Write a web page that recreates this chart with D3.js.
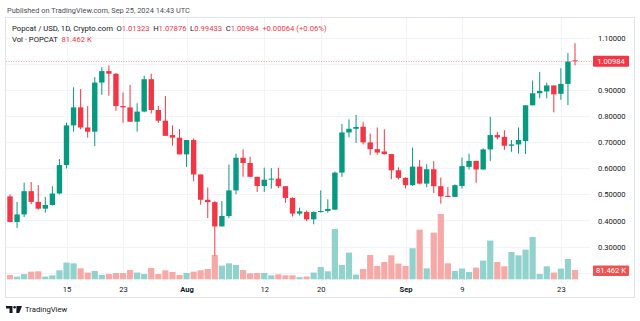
<!DOCTYPE html>
<html>
<head>
<meta charset="utf-8">
<script src="https://cdn.jsdelivr.net/npm/d3@7"></script>
<style>
  html, body { margin: 0; padding: 0; background: #ffffff; }
  svg { display: block; font-family: Roboto, "Noto Sans", sans-serif; }
</style>
</head>
<body>
<svg id="chart" width="640" height="321"></svg>
<script>
// ---------- DATA ----------
const startDay = "2024-07-07";
const endDay = "2024-09-25";
const openVals = [0.492,0.394,0.423,0.512,0.471,0.445,0.459,0.503,0.612,0.764,
  0.833,0.756,0.740,0.928,0.972,0.962,0.838,0.833,0.778,0.817,
  0.941,0.823,0.782,0.727,0.717,0.653,0.708,0.576,0.479,0.470,
  0.377,0.417,0.515,0.640,0.620,0.567,0.532,0.556,0.560,0.531,
  0.486,0.426,0.432,0.404,0.432,0.436,0.441,0.583,0.737,0.751,
  0.759,0.699,0.673,0.664,0.654,0.592,0.563,0.535,0.606,0.541,
  0.596,0.531,0.494,0.490,0.532,0.605,0.628,0.595,0.672,0.727,
  0.720,0.686,0.691,0.704,0.841,0.887,0.894,0.917,0.885,0.923,1.01323];
const highVals = [0.500,0.471,0.545,0.547,0.535,0.490,0.531,0.635,0.774,0.910,
  0.903,0.838,0.949,0.987,0.994,0.964,0.890,0.919,0.849,0.954,
  0.962,0.838,0.877,0.764,0.750,0.708,0.714,0.576,0.526,0.474,
  0.474,0.614,0.656,0.672,0.644,0.567,0.602,0.600,0.602,0.532,
  0.488,0.449,0.438,0.435,0.515,0.481,0.587,0.769,0.787,0.804,
  0.778,0.733,0.756,0.749,0.654,0.603,0.565,0.679,0.631,0.615,
  0.627,0.564,0.528,0.538,0.641,0.656,0.628,0.676,0.797,0.740,
  0.746,0.708,0.756,0.841,0.936,0.969,0.928,0.917,0.983,1.041,1.07876];
const lowVals = [0.392,0.371,0.413,0.462,0.441,0.430,0.457,0.500,0.599,0.740,
  0.749,0.717,0.685,0.881,0.878,0.820,0.774,0.778,0.740,0.814,
  0.810,0.774,0.724,0.686,0.653,0.605,0.550,0.460,0.409,0.265,
  0.377,0.409,0.500,0.567,0.567,0.509,0.509,0.522,0.523,0.467,
  0.415,0.419,0.397,0.385,0.430,0.430,0.441,0.567,0.718,0.697,
  0.691,0.650,0.652,0.652,0.558,0.557,0.522,0.532,0.538,0.527,
  0.505,0.464,0.490,0.490,0.522,0.595,0.544,0.595,0.628,0.710,
  0.670,0.663,0.656,0.654,0.841,0.868,0.868,0.814,0.862,0.842,0.99433];
const closeVals = [0.394,0.423,0.512,0.471,0.445,0.459,0.503,0.612,0.764,0.833,
  0.756,0.740,0.928,0.972,0.962,0.838,0.833,0.778,0.817,0.941,
  0.823,0.782,0.724,0.717,0.653,0.708,0.576,0.479,0.470,0.377,
  0.417,0.515,0.640,0.620,0.567,0.532,0.556,0.560,0.531,0.486,
  0.426,0.435,0.404,0.432,0.436,0.444,0.583,0.737,0.751,0.758,
  0.699,0.673,0.660,0.654,0.592,0.563,0.535,0.606,0.541,0.596,
  0.531,0.492,0.490,0.535,0.608,0.628,0.595,0.672,0.727,0.718,
  0.686,0.691,0.708,0.841,0.887,0.896,0.917,0.883,0.923,1.0092,1.00984];
// volume in thousands
const volumeK = [38,24,46,67,70,24,35,79,146,140,
  96,59,73,38,46,55,55,81,59,46,
  99,46,79,64,38,55,67,79,90,213,
  120,140,125,81,53,55,55,35,44,35,
  35,18,24,59,108,70,441,125,234,41,
  90,213,117,152,210,138,117,272,435,96,
  409,572,140,73,94,64,102,164,339,152,
  114,239,210,260,371,46,114,59,94,178,81.462];

const priceTicks = [0.3,0.4,0.5,0.6,0.7,0.8,0.9,1.1];
const priceTickLabels = ["0.30000","0.40000","0.50000","0.60000","0.70000","0.80000","0.90000","1.10000"];
const gridPrices = [0.2,0.3,0.4,0.5,0.6,0.7,0.8,0.9,1.0,1.1];
const timeTickDates = ["2024-07-15","2024-07-23","2024-08-01","2024-08-12","2024-08-20","2024-09-01","2024-09-09","2024-09-23"];
const timeTickLabels = ["15","23","Aug","12","20","Sep","9","23"];
const timeTickBold = [false,false,true,false,false,true,false,false];

const lastPrice = 1.00984;
const lastVolumeLabel = "81.462 K";
const publishedText = "Published on TradingView.com, Sep 25, 2024 14:43 UTC";
const symbolText = "Popcat / USD, 1D, Crypto.com";
const ohlcLegend = [["O","1.01323"],["H","1.07876"],["L","0.99433"],["C","1.00984"]];
const changeText = "+0.00064 (+0.06%)";
const volTitle = "Vol · POPCAT";

// ---------- CHART ----------
const UP = "#089981", DOWN = "#F23645";
const VOL_UP = "#92D2CC", VOL_DOWN = "#F7A9A7";
const TEXT = "#131722";
const GRID = "#F0F3FA";
const BORDER = "#E0E3EB";

const parse = d3.utcParse("%Y-%m-%d");
const dates = d3.utcDay.range(parse(startDay), d3.utcDay.offset(parse(endDay), 1));
const data = dates.map((d, i) => ({
  date: d, o: openVals[i], h: highVals[i], l: lowVals[i], c: closeVals[i], v: volumeK[i]
}));

const svg = d3.select("#chart");
const frame = {left: 5, right: 634, top: 17, bottom: 297};
const paneRight = 590;

const x = d3.scaleUtc().domain([dates[0], dates[dates.length - 1]]).range([10, 575]);
const y = d3.scaleLinear().domain([0.3, 1.1]).range([246.5, 37.7]);
const yv = d3.scaleLinear().domain([0, 600]).range([279.3, 210.8]);

// frame
svg.append("rect").attr("x", frame.left + 0.5).attr("y", frame.top + 0.5)
  .attr("width", frame.right - frame.left).attr("height", frame.bottom - frame.top)
  .attr("fill", "none").attr("stroke", BORDER).attr("stroke-width", 1);

// horizontal grid
svg.append("g").selectAll("line").data(gridPrices).join("line")
  .attr("x1", frame.left + 1).attr("x2", paneRight)
  .attr("y1", d => Math.round(y(d)) + 0.5).attr("y2", d => Math.round(y(d)) + 0.5)
  .attr("stroke", GRID).attr("stroke-width", 1);

// vertical grid
svg.append("g").selectAll("line").data(timeTickDates).join("line")
  .attr("x1", d => Math.round(x(parse(d))) + 0.5).attr("x2", d => Math.round(x(parse(d))) + 0.5)
  .attr("y1", frame.top + 1).attr("y2", 283)
  .attr("stroke", GRID).attr("stroke-width", 1);

// volume bars
const vW = 6.2;
svg.append("g").selectAll("rect").data(data).join("rect")
  .attr("x", d => x(d.date) - vW / 2)
  .attr("y", d => yv(d.v))
  .attr("width", vW)
  .attr("height", d => yv(0) - yv(d.v))
  .attr("fill", d => d.c >= d.o ? VOL_UP : VOL_DOWN);

// wicks
svg.append("g").selectAll("line").data(data).join("line")
  .attr("x1", d => x(d.date)).attr("x2", d => x(d.date))
  .attr("y1", d => y(d.h)).attr("y2", d => y(d.l))
  .attr("stroke", d => d.c >= d.o ? UP : DOWN).attr("stroke-width", 1);

// bodies
const bW = 5.4;
svg.append("g").selectAll("rect").data(data).join("rect")
  .attr("x", d => x(d.date) - bW / 2)
  .attr("y", d => y(Math.max(d.o, d.c)))
  .attr("width", bW)
  .attr("height", d => Math.max(1, Math.abs(y(d.o) - y(d.c))))
  .attr("fill", d => d.c >= d.o ? UP : DOWN);

// last price dotted line
svg.append("line")
  .attr("x1", frame.left + 1).attr("x2", 593)
  .attr("y1", Math.round(y(lastPrice)) + 0.5).attr("y2", Math.round(y(lastPrice)) + 0.5)
  .attr("stroke", "#F7A1A8").attr("stroke-width", 1).attr("stroke-dasharray", "1,1.5");

// right price axis
const yAxis = d3.axisRight(y).tickValues(priceTicks)
  .tickFormat((d, i) => priceTickLabels[i]).tickSize(0).tickPadding(0);
const gy = svg.append("g").attr("transform", "translate(598,0)").call(yAxis);
gy.select(".domain").remove();
gy.selectAll("text").attr("fill", TEXT).attr("font-size", "7.6px")
  .attr("font-family", "Roboto, sans-serif").attr("dy", "0.35em").attr("x", 0);

// price label
const py = y(lastPrice);
svg.append("rect").attr("x", 593).attr("y", py - 5.5).attr("width", 36).attr("height", 11)
  .attr("rx", 1).attr("fill", DOWN);
svg.append("text").attr("x", 611).attr("y", py).attr("dy", "0.35em")
  .attr("text-anchor", "middle").attr("fill", "#fff").attr("font-size", "7.6px")
  .text(lastPrice.toFixed(5));

// volume label
svg.append("rect").attr("x", 593).attr("y", 265.5).attr("width", 36).attr("height", 10.5)
  .attr("rx", 1).attr("fill", "#EF5350");
svg.append("text").attr("x", 611).attr("y", 270.8).attr("dy", "0.35em")
  .attr("text-anchor", "middle").attr("fill", "#fff").attr("font-size", "7.6px")
  .text(lastVolumeLabel);

// bottom time axis
const xAxis = d3.axisBottom(x).tickValues(timeTickDates.map(parse))
  .tickFormat((d, i) => timeTickLabels[i]).tickSize(0).tickPadding(0);
const gx = svg.append("g").attr("transform", "translate(0,289)").call(xAxis);
gx.select(".domain").remove();
gx.selectAll("text").attr("fill", TEXT).attr("font-size", "7.6px")
  .attr("font-family", "Roboto, sans-serif").attr("dy", "0.35em").attr("y", 0)
  .attr("font-weight", (d, i) => timeTickBold[i] ? "bold" : "normal");

// header texts
svg.append("text").attr("x", 7).attr("y", 10).attr("dy", "0.35em")
  .attr("font-size", "7.4px").attr("fill", "#4A4D57").text(publishedText);

const legend = svg.append("text").attr("x", 12).attr("y", 28).attr("dy", "0.35em")
  .attr("font-size", "7.7px").attr("fill", TEXT);
legend.append("tspan").text(symbolText);
ohlcLegend.forEach(([k, v]) => {
  legend.append("tspan").attr("dx", "3.5").text(k);
  legend.append("tspan").attr("fill", DOWN).text(v);
});
legend.append("tspan").attr("dx", "3.5").attr("fill", DOWN).text(changeText);

const vlegend = svg.append("text").attr("x", 12).attr("y", 39.5).attr("dy", "0.35em")
  .attr("font-size", "7.7px").attr("fill", TEXT);
vlegend.append("tspan").text(volTitle);
vlegend.append("tspan").attr("dx", "3.5").attr("fill", DOWN).text(lastVolumeLabel);

// TradingView logo
const logo = svg.append("g").attr("fill", TEXT);
logo.append("path").attr("d", "M6,306 L12.5,306 L12.5,313 L9.5,313 L9.5,308.5 L6,308.5 Z");
logo.append("circle").attr("cx", 14.6).attr("cy", 307.3).attr("r", 1.3);
logo.append("path").attr("d", "M16.5,306 L22,306 L19.2,313 L16.3,313 Z");
svg.append("text").attr("x", 25).attr("y", 309.5).attr("dy", "0.35em")
  .attr("font-size", "7.7px").attr("fill", TEXT).text("TradingView");
</script>
</body>
</html>
